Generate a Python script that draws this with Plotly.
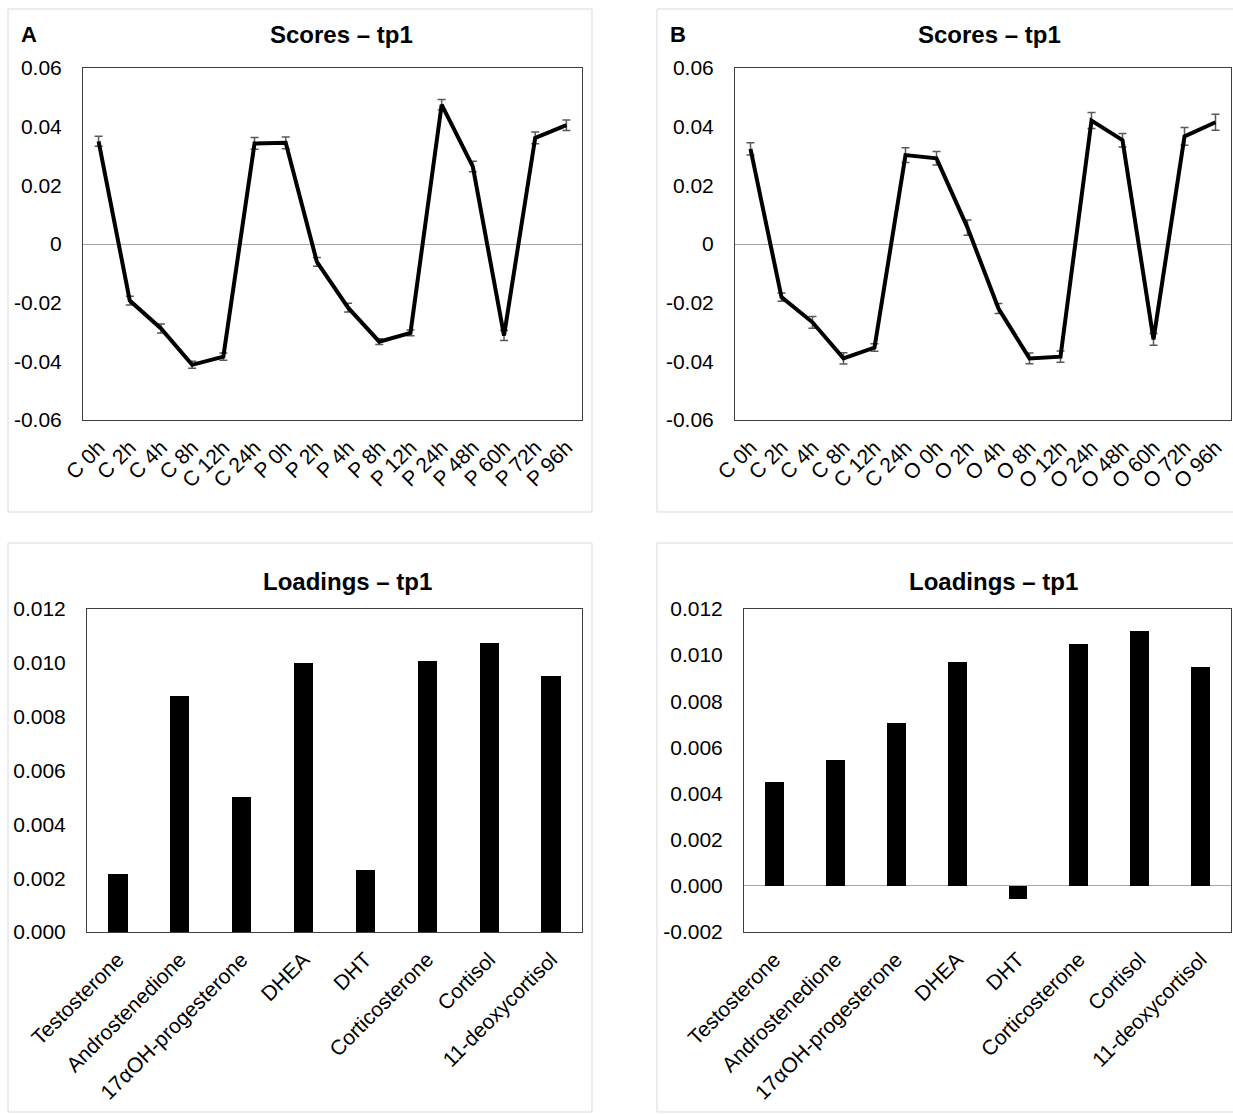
import plotly.graph_objects as go

W, H = 1233, 1114

# ---------------- data ----------------
cats_A = ["C 0h", "C 2h", "C 4h", "C 8h", "C 12h", "C 24h", "P 0h", "P 2h",
          "P 4h", "P 8h", "P 12h", "P 24h", "P 48h", "P 60h", "P 72h", "P 96h"]
scores_A = [0.0350, -0.0193, -0.0288, -0.0412, -0.0384, 0.0343, 0.0345, -0.0061,
            -0.0217, -0.0333, -0.0303, 0.0475, 0.0264, -0.0312, 0.0362, 0.0405]
err_A = [0.0017, 0.0015, 0.0015, 0.0012, 0.0012, 0.0020, 0.0020, 0.0015,
         0.0015, 0.0010, 0.0010, 0.0018, 0.0018, 0.0017, 0.0020, 0.0018]

cats_B = ["C 0h", "C 2h", "C 4h", "C 8h", "C 12h", "C 24h", "O 0h", "O 2h",
          "O 4h", "O 8h", "O 12h", "O 24h", "O 48h", "O 60h", "O 72h", "O 96h"]
scores_B = [0.0324, -0.0181, -0.0267, -0.0390, -0.0353, 0.0303, 0.0292, 0.0056,
            -0.0220, -0.0390, -0.0384, 0.0421, 0.0354, -0.0325, 0.0367, 0.0415]
err_B = [0.0021, 0.0014, 0.0020, 0.0019, 0.0013, 0.0025, 0.0023, 0.0026,
         0.0017, 0.0018, 0.0019, 0.0027, 0.0023, 0.0020, 0.0030, 0.0027]

hormones = ["Testosterone", "Androstenedione", "17αOH-progesterone", "DHEA", "DHT",
            "Corticosterone", "Cortisol", "11-deoxycortisol"]
loadings_A = [0.00217, 0.00875, 0.00500, 0.01000, 0.00230, 0.01005, 0.01073, 0.00950]
loadings_B = [0.00450, 0.00544, 0.00708, 0.00972, -0.00056, 0.01050, 0.01106, 0.00950]

score_ticks = [-0.06, -0.04, -0.02, 0, 0.02, 0.04, 0.06]
score_ticktext = ["-0.06", "-0.04", "-0.02", "0", "0.02", "0.04", "0.06"]
loadA_ticks = [0, 0.002, 0.004, 0.006, 0.008, 0.010, 0.012]
loadA_ticktext = ["0.000", "0.002", "0.004", "0.006", "0.008", "0.010", "0.012"]
loadB_ticks = [-0.002, 0, 0.002, 0.004, 0.006, 0.008, 0.010, 0.012]
loadB_ticktext = ["-0.002", "0.000", "0.002", "0.004", "0.006", "0.008", "0.010", "0.012"]

# ---------------- layout helpers ----------------
FONT = "Liberation Sans, Arial, sans-serif"
TICKFONT = dict(family=FONT, size=21, color="#000000")


def px_x(a, b):
    return [a / W, b / W]


def px_y(top, bottom):
    return [1 - bottom / H, 1 - top / H]


err_style = dict(type="data", visible=True, color="#595959", thickness=1.5, width=4)

fig = go.Figure()
fig.add_trace(go.Scatter(x=cats_A, y=scores_A, mode="lines",
                         line=dict(color="#000000", width=4),
                         error_y=dict(array=err_A, **err_style),
                         xaxis="x", yaxis="y", showlegend=False))
fig.add_trace(go.Scatter(x=cats_B, y=scores_B, mode="lines",
                         line=dict(color="#000000", width=4),
                         error_y=dict(array=err_B, **err_style),
                         xaxis="x2", yaxis="y2", showlegend=False))
fig.add_trace(go.Bar(x=hormones, y=loadings_A, width=0.31,
                     marker=dict(color="#000000", line=dict(width=0)),
                     xaxis="x3", yaxis="y3", showlegend=False))
fig.add_trace(go.Bar(x=hormones, y=loadings_B, width=0.31,
                     marker=dict(color="#000000", line=dict(width=0)),
                     xaxis="x4", yaxis="y4", showlegend=False))

axis_common = dict(showline=True, mirror=True, linecolor="#3f3f3f", linewidth=1,
                   showgrid=False, ticks="", tickfont=TICKFONT, fixedrange=True,
                   automargin=False)

xcat = dict(axis_common, type="category", tickangle=-45, ticklabelstandoff=6)

layout = dict(
    width=W, height=H,
    margin=dict(l=0, r=0, t=0, b=0, pad=0),
    paper_bgcolor="#ffffff", plot_bgcolor="#ffffff",
    font=dict(family=FONT, color="#000000"),
    bargap=0,
    xaxis=dict(xcat, domain=px_x(83, 582), anchor="y", range=[-0.5, 15.5]),
    yaxis=dict(axis_common, domain=px_y(68, 420), anchor="x", range=[-0.06, 0.06],
               tickvals=score_ticks, ticktext=score_ticktext, ticklabelstandoff=16,
               zeroline=True, zerolinecolor="#a6a6a6", zerolinewidth=1),
    xaxis2=dict(xcat, domain=px_x(735, 1231), anchor="y2", range=[-0.5, 15.5]),
    yaxis2=dict(axis_common, domain=px_y(68, 420), anchor="x2", range=[-0.06, 0.06],
                tickvals=score_ticks, ticktext=score_ticktext, ticklabelstandoff=16,
                zeroline=True, zerolinecolor="#a6a6a6", zerolinewidth=1),
    xaxis3=dict(xcat, domain=px_x(87, 582), anchor="y3", range=[-0.5, 7.5]),
    yaxis3=dict(axis_common, domain=px_y(609, 932), anchor="x3", range=[0, 0.012],
                tickvals=loadA_ticks, ticktext=loadA_ticktext, ticklabelstandoff=16,
                zeroline=False),
    xaxis4=dict(xcat, domain=px_x(744, 1231), anchor="y4", range=[-0.5, 7.5]),
    yaxis4=dict(axis_common, domain=px_y(609, 932), anchor="x4", range=[-0.002, 0.012],
                tickvals=loadB_ticks, ticktext=loadB_ticktext, ticklabelstandoff=16,
                zeroline=True, zerolinecolor="#a6a6a6", zerolinewidth=1),
)
fig.update_layout(**layout)

# panel frames
frames = [(8, 9, 592, 512), (657, 9, 1240, 512), (8, 543, 592, 1112), (657, 543, 1240, 1112)]
for x0, y0, x1, y1 in frames:
    fig.add_shape(type="rect", xref="paper", yref="paper",
                  x0=x0 / W, x1=x1 / W, y0=1 - y1 / H, y1=1 - y0 / H,
                  line=dict(color="#d9d9d9", width=1), fillcolor="rgba(0,0,0,0)",
                  layer="below")

# titles and panel letters
titles = [("Scores – tp1", 341, 35), ("Scores – tp1", 989, 35),
          ("Loadings – tp1", 347, 581), ("Loadings – tp1", 993, 581)]
for txt, cx, cy in titles:
    fig.add_annotation(text="<b>" + txt + "</b>", xref="paper", yref="paper",
                       x=cx / W, y=1 - cy / H, xanchor="center", yanchor="middle",
                       showarrow=False, font=dict(family=FONT, size=24, color="#000000"))
for txt, lx, cy in [("A", 19, 35), ("B", 668, 35)]:
    fig.add_annotation(text="<b>" + txt + "</b>", xref="paper", yref="paper",
                       x=lx / W, y=1 - cy / H, xanchor="left", yanchor="middle",
                       showarrow=False, font=dict(family=FONT, size=22, color="#000000"))

fig.write_html("out.html", config={"displayModeBar": False})
